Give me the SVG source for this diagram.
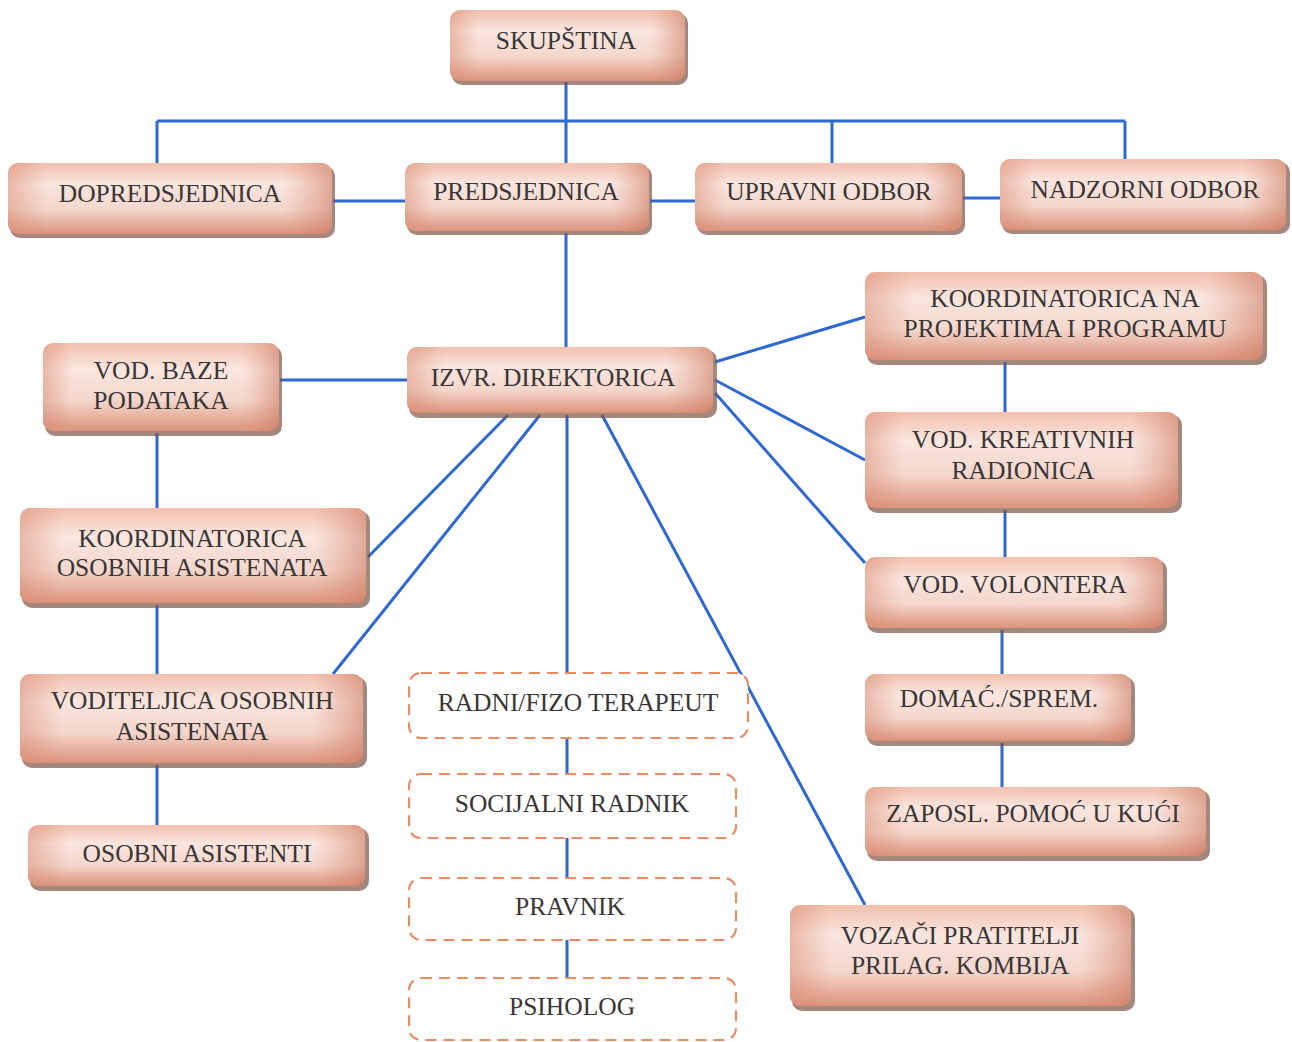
<svg xmlns="http://www.w3.org/2000/svg" width="1292" height="1042" viewBox="0 0 1292 1042">
<style>
.sh{fill:#7d5446;opacity:.7}
.bx{fill:url(#gv)}
.ov{fill:url(#gh)}
.db{fill:#fff;stroke:#ec8a62;stroke-width:2.2;stroke-dasharray:11 7}
.t{font-family:"Liberation Serif","DejaVu Serif","Times New Roman",serif;font-size:25.5px;fill:#3a3636;text-anchor:middle}
.c{stroke:#2f68cf;stroke-width:3;fill:none}
</style>
<defs>
<linearGradient id="gv" x1="0" y1="0" x2="0" y2="1">
<stop offset="0" stop-color="#f2c0ae"/>
<stop offset="0.3" stop-color="#f9e6df"/>
<stop offset="0.65" stop-color="#f4d7cd"/>
<stop offset="1" stop-color="#dc937b"/>
</linearGradient>
<linearGradient id="gh" x1="0" y1="0" x2="1" y2="0">
<stop offset="0" stop-color="#d98b72" stop-opacity="0.5"/>
<stop offset="0.12" stop-color="#d98b72" stop-opacity="0"/>
<stop offset="0.85" stop-color="#d98b72" stop-opacity="0"/>
<stop offset="1" stop-color="#c9775e" stop-opacity="0.55"/>
</linearGradient>
</defs>
<rect width="1292" height="1042" fill="#fff"/>
<g id="connectors">
<path class="c" d="M566 82V163M157 121H1125M157 121V163M832 121V163M1125 121V159"/>
<path class="c" d="M333 201H405M650 201H695M963 198H1000"/>
<path class="c" d="M566 233V347M407 380H280"/>
<path class="c" d="M157 433V508M157 605V674M157 765V825"/>
<path class="c" d="M508 415L368 557M540 415L333 674M567 415V672M602 415L865 905"/>
<path class="c" d="M715 362L865 317M715 380L865 460M715 393L865 563"/>
<path class="c" d="M1005 362V412M1005 510V557M1002 630V674M1002 743V787"/>
<path class="c" d="M567 738V773M567 838V877M567 940V977"/>
</g>
<g id="skupstina"><rect class="sh" x="452" y="13" width="236" height="72" rx="10"/><rect class="bx" x="450" y="10" width="235" height="71" rx="10"/><rect class="ov" x="450" y="10" width="235" height="71" rx="10"/><text class="t" font-family="Liberation Serif, DejaVu Serif, serif" x="566" y="49">SKUPŠTINA</text></g>
<g id="dopredsjednica"><rect class="sh" x="10" y="166" width="325" height="72" rx="10"/><rect class="bx" x="8" y="163" width="324" height="71" rx="10"/><rect class="ov" x="8" y="163" width="324" height="71" rx="10"/><text class="t" font-family="Liberation Serif, DejaVu Serif, serif" x="170" y="202">DOPREDSJEDNICA</text></g>
<g id="predsjednica"><rect class="sh" x="407" y="166" width="245" height="69" rx="10"/><rect class="bx" x="405" y="163" width="244" height="68" rx="10"/><rect class="ov" x="405" y="163" width="244" height="68" rx="10"/><text class="t" font-family="Liberation Serif, DejaVu Serif, serif" x="526" y="200">PREDSJEDNICA</text></g>
<g id="upravni"><rect class="sh" x="697" y="166" width="268" height="69" rx="10"/><rect class="bx" x="695" y="163" width="267" height="68" rx="10"/><rect class="ov" x="695" y="163" width="267" height="68" rx="10"/><text class="t" font-family="Liberation Serif, DejaVu Serif, serif" x="829" y="200">UPRAVNI ODBOR</text></g>
<g id="nadzorni"><rect class="sh" x="1002" y="162" width="288" height="72" rx="10"/><rect class="bx" x="1000" y="159" width="286" height="71" rx="10"/><rect class="ov" x="1000" y="159" width="286" height="71" rx="10"/><text class="t" font-family="Liberation Serif, DejaVu Serif, serif" x="1145" y="198">NADZORNI ODBOR</text></g>
<g id="koord-proj"><rect class="sh" x="867" y="275" width="400" height="90" rx="10"/><rect class="bx" x="865" y="272" width="398" height="88" rx="10"/><rect class="ov" x="865" y="272" width="398" height="88" rx="10"/><text class="t" font-family="Liberation Serif, DejaVu Serif, serif" x="1065" y="307">KOORDINATORICA NA</text><text class="t" font-family="Liberation Serif, DejaVu Serif, serif" x="1065" y="337">PROJEKTIMA I PROGRAMU</text></g>
<g id="vod-baze"><rect class="sh" x="45" y="346" width="237" height="90" rx="10"/><rect class="bx" x="43" y="343" width="236" height="88" rx="10"/><rect class="ov" x="43" y="343" width="236" height="88" rx="10"/><text class="t" font-family="Liberation Serif, DejaVu Serif, serif" x="161" y="379">VOD. BAZE</text><text class="t" font-family="Liberation Serif, DejaVu Serif, serif" x="161" y="409">PODATAKA</text></g>
<g id="izvr"><rect class="sh" x="409" y="350" width="308" height="68" rx="10"/><rect class="bx" x="407" y="347" width="306" height="66" rx="10"/><rect class="ov" x="407" y="347" width="306" height="66" rx="10"/><text class="t" font-family="Liberation Serif, DejaVu Serif, serif" x="553" y="386">IZVR. DIREKTORICA</text></g>
<g id="vod-kreativnih"><rect class="sh" x="867" y="415" width="315" height="98" rx="10"/><rect class="bx" x="865" y="412" width="313" height="96" rx="10"/><rect class="ov" x="865" y="412" width="313" height="96" rx="10"/><text class="t" font-family="Liberation Serif, DejaVu Serif, serif" x="1023" y="448">VOD. KREATIVNIH</text><text class="t" font-family="Liberation Serif, DejaVu Serif, serif" x="1023" y="479">RADIONICA</text></g>
<g id="koord-osobnih"><rect class="sh" x="22" y="511" width="348" height="97" rx="10"/><rect class="bx" x="20" y="508" width="346" height="95" rx="10"/><rect class="ov" x="20" y="508" width="346" height="95" rx="10"/><text class="t" font-family="Liberation Serif, DejaVu Serif, serif" x="192" y="547">KOORDINATORICA</text><text class="t" font-family="Liberation Serif, DejaVu Serif, serif" x="192" y="576">OSOBNIH ASISTENATA</text></g>
<g id="vod-volontera"><rect class="sh" x="867" y="560" width="300" height="73" rx="10"/><rect class="bx" x="865" y="557" width="298" height="71" rx="10"/><rect class="ov" x="865" y="557" width="298" height="71" rx="10"/><text class="t" font-family="Liberation Serif, DejaVu Serif, serif" x="1015" y="593">VOD. VOLONTERA</text></g>
<g id="voditeljica"><rect class="sh" x="22" y="677" width="345" height="91" rx="10"/><rect class="bx" x="20" y="674" width="343" height="89" rx="10"/><rect class="ov" x="20" y="674" width="343" height="89" rx="10"/><text class="t" font-family="Liberation Serif, DejaVu Serif, serif" x="192" y="709">VODITELJICA OSOBNIH</text><text class="t" font-family="Liberation Serif, DejaVu Serif, serif" x="192" y="740">ASISTENATA</text></g>
<g id="radni"><rect class="db" x="409" y="673" width="339" height="65" rx="12"/><text class="t" font-family="Liberation Serif, DejaVu Serif, serif" x="578" y="711">RADNI/FIZO TERAPEUT</text></g>
<g id="domac"><rect class="sh" x="867" y="677" width="268" height="69" rx="10"/><rect class="bx" x="865" y="674" width="266" height="67" rx="10"/><rect class="ov" x="865" y="674" width="266" height="67" rx="10"/><text class="t" font-family="Liberation Serif, DejaVu Serif, serif" x="999" y="707">DOMAĆ./SPREM.</text></g>
<g id="socijalni"><rect class="db" x="409" y="774" width="327" height="64" rx="12"/><text class="t" font-family="Liberation Serif, DejaVu Serif, serif" x="572" y="812">SOCIJALNI RADNIK</text></g>
<g id="zaposl"><rect class="sh" x="867" y="790" width="343" height="71" rx="10"/><rect class="bx" x="865" y="787" width="341" height="69" rx="10"/><rect class="ov" x="865" y="787" width="341" height="69" rx="10"/><text class="t" font-family="Liberation Serif, DejaVu Serif, serif" x="1033" y="822">ZAPOSL. POMOĆ U KUĆI</text></g>
<g id="osobni"><rect class="sh" x="30" y="828" width="339" height="63" rx="10"/><rect class="bx" x="28" y="825" width="337" height="61" rx="10"/><rect class="ov" x="28" y="825" width="337" height="61" rx="10"/><text class="t" font-family="Liberation Serif, DejaVu Serif, serif" x="197" y="862">OSOBNI ASISTENTI</text></g>
<g id="pravnik"><rect class="db" x="409" y="878" width="327" height="62" rx="12"/><text class="t" font-family="Liberation Serif, DejaVu Serif, serif" x="570" y="915">PRAVNIK</text></g>
<g id="vozaci"><rect class="sh" x="792" y="908" width="343" height="103" rx="10"/><rect class="bx" x="790" y="905" width="341" height="101" rx="10"/><rect class="ov" x="790" y="905" width="341" height="101" rx="10"/><text class="t" font-family="Liberation Serif, DejaVu Serif, serif" x="960" y="944">VOZAČI PRATITELJI</text><text class="t" font-family="Liberation Serif, DejaVu Serif, serif" x="960" y="974">PRILAG. KOMBIJA</text></g>
<g id="psiholog"><rect class="db" x="409" y="978" width="327" height="62" rx="12"/><text class="t" font-family="Liberation Serif, DejaVu Serif, serif" x="572" y="1015">PSIHOLOG</text></g>
</svg>
